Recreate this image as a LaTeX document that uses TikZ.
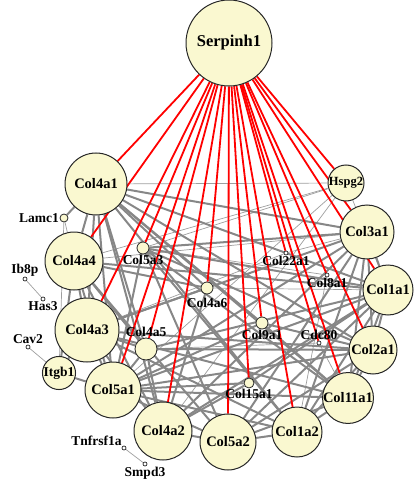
\documentclass[tikz,border=0pt]{standalone}
\usepackage{fontspec}
\setmainfont{Liberation Serif}
\usetikzlibrary{backgrounds}
\definecolor{genefill}{RGB}{250,248,208}
\tikzset{%
          every gene/.style={
            circle,
            draw=black!85,
            line width=1pt,
            fill=genefill,
            inner sep=0pt,
            font=\fontsize{14.5}{16}\selectfont\bfseries
          },
          gene small/.style={
            circle,
            draw=black!85,
            line width=0.8pt,
            fill=genefill,
            inner sep=0pt,
            label distance=1pt
          },
          gene dot/.style={
            circle,
            draw=black!85,
            line width=0.7pt,
            fill=white,
            minimum size=4pt,
            inner sep=0pt,
            label distance=0.5pt
          },
          every label/.style={
            inner sep=0.5pt,
            font=\fontsize{13.5}{15}\selectfont\bfseries
          },
          hub link/.style={draw=red, line width=1.8pt},
          link/.style={draw=black!47, line width=2pt},
          weak link/.style={draw=black!38, line width=0.7pt},
        }

\begin{document}
\begin{tikzpicture}[x=1pt, y=-1pt]
        \useasboundingbox (0,0) rectangle (414,481);

        \node [every gene, minimum size=86pt] (serpinh1) at (229,43) {\fontsize{16.5}{18}\selectfont Serpinh1};

        \node [every gene, minimum size=62pt] (col4a1) at (96,184) {Col4a1};
        \node [every gene, minimum size=58pt] (col4a4) at (74,261) {Col4a4};
        \node [every gene, minimum size=64pt] (col4a3) at (87,330) {Col4a3};
        \node [every gene, minimum size=28pt] (itgb1) at (59,373) {\fontsize{13.5}{15}\selectfont Itgb1};
        \node [every gene, minimum size=56pt] (col5a1) at (113,390) {Col5a1};
        \node [every gene, minimum size=58pt] (col4a2) at (163,431) {Col4a2};
        \node [every gene, minimum size=56pt] (col5a2) at (228,442) {Col5a2};
        \node [every gene, minimum size=50pt] (col1a2) at (297,432) {Col1a2};
        \node [every gene, minimum size=50pt] (col11a1) at (348,398) {Col11a1};
        \node [every gene, minimum size=48pt] (col2a1) at (373,350) {Col2a1};
        \node [every gene, minimum size=50pt] (col1a1) at (388,290) {Col1a1};
        \node [every gene, minimum size=54pt] (col3a1) at (367,232) {Col3a1};
        \node [every gene, minimum size=36pt] (hspg2) at (346,183) {\fontsize{12.5}{14}\selectfont Hspg2};

        \node [gene small, minimum size=8pt, label=left:Lamc1] (lamc1) at (64,218) {};
        \node [gene small, minimum size=12pt, label=below:Col5a3] (col5a3) at (143,248) {};
        \node [gene small, minimum size=12pt, label={[label distance=3pt]below:Col4a6}] (col4a6) at (207,288) {};
        \node [gene small, minimum size=22pt, label=above:Col4a5] (col4a5) at (146,349) {};
        \node [gene small, minimum size=12pt, label=below:Col9a1] (col9a1) at (262,323) {};
        \node [gene small, minimum size=10pt, label=below:Col15a1] (col15a1) at (249,383) {};

        \node [gene dot, label=below:Col22a1] (col22a1) at (286,253) {};
        \node [gene dot, label=below:Col8a1] (col8a1) at (327,275) {};
        \node [gene dot, label=above:Cdc80] (cdc80) at (319,343) {};
        \node [gene dot, label=above:Ib8p] (ib8p) at (25,279) {};
        \node [gene dot, label=below:Has3] (has3) at (43,299) {};
        \node [gene dot, label=above:Cav2] (cav2) at (28,347) {};
        \node [gene dot, label=above left:Tnfrsf1a] (tnfrsf1a) at (124,448) {};
        \node [gene dot, label=below:Smpd3] (smpd3) at (145,464) {};

        \begin{pgfonlayer}{background}
        \path [weak link] (col4a1) -- (hspg2);
        \path [weak link] (hspg2) -- (col4a4);
        \path [weak link] (hspg2) -- (col5a1);
        \path [weak link] (hspg2) -- (col4a2);
        \path [weak link] (hspg2) -- (col1a1);
        \path [weak link] (hspg2) -- (col5a3);
        \path [weak link] (lamc1) -- (itgb1);
        \path [weak link] (lamc1) -- (col4a4);
        \path [weak link] (ib8p) -- (has3);
        \path [weak link] (cav2) -- (itgb1);
        \path [weak link] (tnfrsf1a) -- (smpd3);
        \path [weak link] (col22a1) -- (col4a3);
        \path [weak link] (col22a1) -- (col3a1);
        \path [weak link] (col8a1) -- (col1a2);
        \path [weak link] (col8a1) -- (col5a3);
        \path [weak link] (cdc80) -- (col4a5);
        \path [weak link] (cdc80) -- (col11a1);
        \path [weak link] (col3a1) -- (col4a4);
        \path [weak link] (col1a1) -- (col4a6);

        \path [link] (lamc1) -- (col4a1);
        \path [link] (itgb1) -- (col4a4);
        \path [link] (itgb1) -- (col5a1);
        \path [link] (itgb1) -- (col4a3);
        \path [link] (col4a1) -- (col4a4);
        \path [link] (col4a1) -- (col4a3);
        \path [link] (col4a1) -- (col4a2);
        \path [link] (col4a1) -- (col4a5);
        \path [link] (col4a1) -- (col4a6);
        \path [link] (col4a1) -- (col3a1);
        \path [link] (col4a1) -- (col1a1);
        \path [link] (col4a1) -- (col2a1);
        \path [link] (col4a1) -- (col5a1);
        \path [link] (col4a1) -- (col1a2);
        \path [link] (col4a1) -- (col11a1);
        \path [link] (col4a1) -- (col9a1);
        \path [link] (col4a4) -- (col4a3);
        \path [link] (col4a4) -- (col4a2);
        \path [link] (col4a4) -- (col4a5);
        \path [link] (col4a4) -- (col4a6);
        \path [link] (col4a4) -- (col1a1);
        \path [link] (col4a4) -- (col5a1);
        \path [link] (col4a4) -- (col5a2);
        \path [link] (col4a3) -- (col4a2);
        \path [link] (col4a3) -- (col4a5);
        \path [link] (col4a3) -- (col4a6);
        \path [link] (col4a3) -- (col2a1);
        \path [link] (col4a3) -- (col5a1);
        \path [link] (col4a3) -- (col1a2);
        \path [link] (col4a3) -- (col11a1);
        \path [link] (col4a2) -- (col4a5);
        \path [link] (col4a2) -- (col4a6);
        \path [link] (col4a2) -- (col3a1);
        \path [link] (col4a2) -- (col1a1);
        \path [link] (col4a2) -- (col5a2);
        \path [link] (col5a1) -- (col5a2);
        \path [link] (col5a1) -- (col1a2);
        \path [link] (col5a1) -- (col1a1);
        \path [link] (col5a1) -- (col2a1);
        \path [link] (col5a1) -- (col3a1);
        \path [link] (col5a1) -- (col11a1);
        \path [link] (col5a1) -- (col5a3);
        \path [link] (col5a1) -- (col4a5);
        \path [link] (col5a1) -- (col9a1);
        \path [link] (col5a2) -- (col1a2);
        \path [link] (col5a2) -- (col1a1);
        \path [link] (col5a2) -- (col3a1);
        \path [link] (col5a2) -- (col2a1);
        \path [link] (col5a2) -- (col11a1);
        \path [link] (col5a2) -- (col5a3);
        \path [link] (col1a2) -- (col1a1);
        \path [link] (col1a2) -- (col3a1);
        \path [link] (col1a2) -- (col2a1);
        \path [link] (col1a2) -- (col11a1);
        \path [link] (col1a2) -- (col5a3);
        \path [link] (col1a1) -- (col3a1);
        \path [link] (col1a1) -- (col2a1);
        \path [link] (col1a1) -- (col11a1);
        \path [link] (col1a1) -- (col5a3);
        \path [link] (col1a1) -- (col4a5);
        \path [link] (col3a1) -- (col2a1);
        \path [link] (col3a1) -- (col11a1);
        \path [link] (col3a1) -- (col5a3);
        \path [link] (col3a1) -- (col4a3);
        \path [link] (col2a1) -- (col11a1);
        \path [link] (col2a1) -- (col9a1);
        \path [link] (col2a1) -- (col5a3);
        \path [link] (col2a1) -- (col4a5);
        \path [link] (col11a1) -- (col9a1);
        \path [link] (col11a1) -- (col5a3);
        \path [link] (col15a1) -- (col5a1);
        \path [link] (col15a1) -- (col4a2);
        \path [link] (col15a1) -- (col1a1);

        \path [hub link] (serpinh1) -- (col4a1);
        \path [hub link] (serpinh1) -- (col4a4);
        \path [hub link] (serpinh1) -- (col4a3);
        \path [hub link] (serpinh1) -- (col5a3);
        \path [hub link] (serpinh1) -- (col4a5);
        \path [hub link] (serpinh1) -- (col5a1);
        \path [hub link] (serpinh1) -- (col4a6);
        \path [hub link] (serpinh1) -- (col4a2);
        \path [hub link] (serpinh1) -- (col5a2);
        \path [hub link] (serpinh1) -- (col15a1);
        \path [hub link] (serpinh1) -- (col9a1);
        \path [hub link] (serpinh1) -- (col1a2);
        \path [hub link] (serpinh1) -- (col22a1);
        \path [hub link] (serpinh1) -- (cdc80);
        \path [hub link] (serpinh1) -- (col11a1);
        \path [hub link] (serpinh1) -- (col8a1);
        \path [hub link] (serpinh1) -- (col2a1);
        \path [hub link] (serpinh1) -- (col1a1);
        \path [hub link] (serpinh1) -- (col3a1);
        \path [hub link] (serpinh1) -- (hspg2);
        \end{pgfonlayer}

        \end{tikzpicture}
\end{document}
